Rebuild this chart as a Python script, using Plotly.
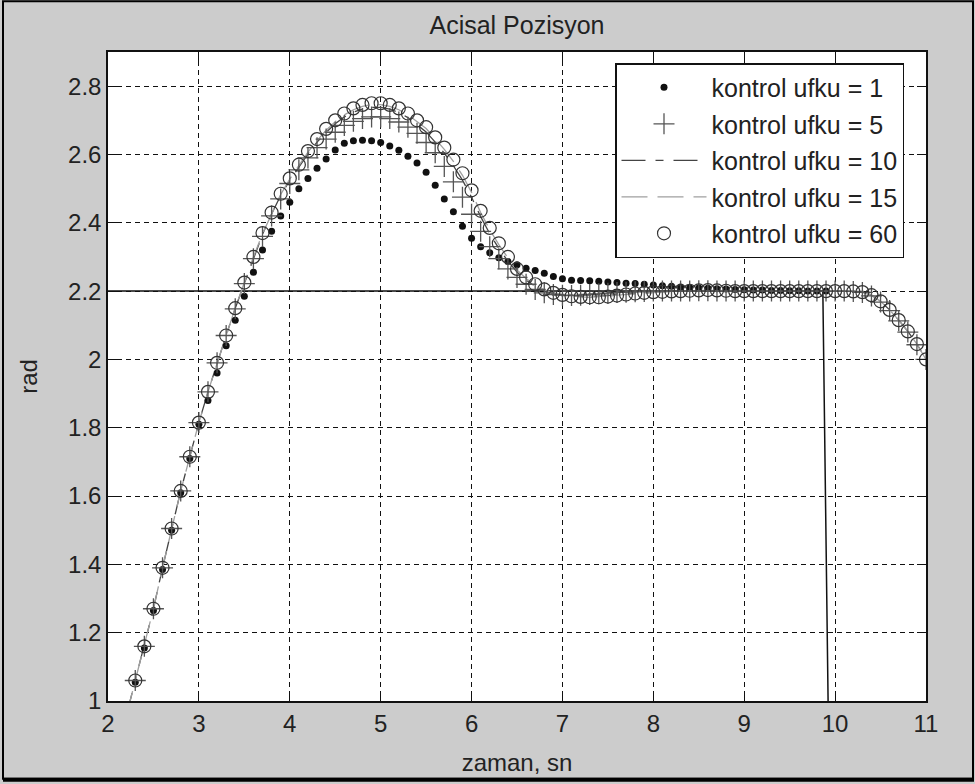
import plotly.graph_objects as go

# time axis (s)
t = [2.2, 2.3, 2.4, 2.5, 2.6, 2.7, 2.8, 2.9, 3.0, 3.1, 3.2, 3.3, 3.4, 3.5, 3.6, 3.7, 3.8, 3.9,
     4.0, 4.1, 4.2, 4.3, 4.4, 4.5, 4.6, 4.7, 4.8, 4.9, 5.0, 5.1, 5.2, 5.3, 5.4, 5.5, 5.6, 5.7,
     5.8, 5.9, 6.0, 6.1, 6.2, 6.3, 6.4, 6.5, 6.6, 6.7, 6.8, 6.9, 7.0, 7.1, 7.2, 7.3, 7.4, 7.5,
     7.6, 7.7, 7.8, 7.9, 8.0, 8.1, 8.2, 8.3, 8.4, 8.5, 8.6, 8.7, 8.8, 8.9, 9.0, 9.1, 9.2, 9.3,
     9.4, 9.5, 9.6, 9.7, 9.8, 9.9, 10.0, 10.1, 10.2, 10.3, 10.4, 10.5, 10.6, 10.7, 10.8, 10.9, 11.0]

# kontrol ufku = 60 (circles)
y_h60 = [0.955, 1.06, 1.16, 1.27, 1.39, 1.505, 1.615, 1.715, 1.815, 1.905, 1.99, 2.07, 2.15, 2.225,
         2.30, 2.37, 2.43, 2.485, 2.53, 2.57, 2.61, 2.645, 2.675, 2.70, 2.72, 2.735, 2.745, 2.75,
         2.75, 2.745, 2.735, 2.72, 2.70, 2.68, 2.65, 2.62, 2.585, 2.545, 2.495, 2.435, 2.385, 2.34,
         2.30, 2.265, 2.24, 2.22, 2.205, 2.195, 2.189, 2.185, 2.183, 2.182, 2.182, 2.184, 2.187,
         2.19, 2.193, 2.195, 2.197, 2.198, 2.199, 2.2, 2.201, 2.202, 2.203, 2.202, 2.201, 2.2, 2.2,
         2.2, 2.2, 2.2, 2.2, 2.2, 2.2, 2.2, 2.2, 2.2, 2.2, 2.2, 2.199, 2.197, 2.188, 2.17, 2.145,
         2.115, 2.082, 2.045, 2.0]

# kontrol ufku = 5 (plus)
y_h5 = [0.955, 1.06, 1.16, 1.27, 1.39, 1.505, 1.615, 1.715, 1.815, 1.905, 1.99, 2.07, 2.148, 2.222,
        2.295, 2.36, 2.42, 2.47, 2.515, 2.555, 2.59, 2.62, 2.645, 2.665, 2.685, 2.697, 2.705, 2.71,
        2.71, 2.705, 2.695, 2.68, 2.662, 2.635, 2.605, 2.565, 2.52, 2.475, 2.425, 2.375, 2.33, 2.295,
        2.265, 2.24, 2.22, 2.205, 2.195, 2.19, 2.188, 2.187, 2.188, 2.19, 2.192, 2.194, 2.196,
        2.197, 2.198, 2.199, 2.2, 2.2, 2.2, 2.2, 2.2, 2.201, 2.201, 2.2, 2.2, 2.2, 2.2,
        2.2, 2.2, 2.2, 2.2, 2.2, 2.2, 2.2, 2.2, 2.2, 2.2, 2.2, 2.199, 2.196, 2.186, 2.168, 2.143,
        2.113, 2.08, 2.043, 2.0]

# kontrol ufku = 10 (dash-dot line)
y_h10 = [0.955, 1.06, 1.16, 1.27, 1.39, 1.505, 1.615, 1.715, 1.815, 1.905, 1.99, 2.07, 2.15, 2.224,
         2.298, 2.366, 2.426, 2.48, 2.524, 2.563, 2.602, 2.636, 2.665, 2.69, 2.71, 2.724, 2.733, 2.738,
         2.738, 2.733, 2.723, 2.708, 2.688, 2.666, 2.636, 2.604, 2.567, 2.525, 2.475, 2.418, 2.368, 2.325,
         2.288, 2.256, 2.232, 2.214, 2.201, 2.193, 2.188, 2.185, 2.184, 2.184, 2.185, 2.187, 2.19,
         2.192, 2.194, 2.196, 2.198, 2.199, 2.2, 2.2, 2.201, 2.202, 2.202, 2.201, 2.2, 2.2, 2.2,
         2.2, 2.2, 2.2, 2.2, 2.2, 2.2, 2.2, 2.2, 2.2, 2.2, 2.2, 2.199, 2.197, 2.188, 2.17, 2.145,
         2.115, 2.082, 2.045, 2.0]

# kontrol ufku = 15 (long-dash line)
y_h15 = [0.955, 1.06, 1.16, 1.27, 1.39, 1.505, 1.615, 1.715, 1.815, 1.905, 1.99, 2.07, 2.15, 2.225,
         2.30, 2.368, 2.428, 2.483, 2.528, 2.567, 2.607, 2.641, 2.671, 2.696, 2.716, 2.731, 2.741, 2.746,
         2.746, 2.741, 2.731, 2.716, 2.696, 2.676, 2.646, 2.615, 2.58, 2.539, 2.489, 2.43, 2.38, 2.336,
         2.297, 2.262, 2.237, 2.218, 2.204, 2.194, 2.189, 2.185, 2.183, 2.182, 2.183, 2.185, 2.188,
         2.19, 2.193, 2.195, 2.197, 2.198, 2.199, 2.2, 2.201, 2.202, 2.203, 2.202, 2.201, 2.2, 2.2,
         2.2, 2.2, 2.2, 2.2, 2.2, 2.2, 2.2, 2.2, 2.2, 2.2, 2.2, 2.199, 2.197, 2.188, 2.17, 2.145,
         2.115, 2.082, 2.045, 2.0]

# kontrol ufku = 1 (dots), recorded until 9.9 s
t_h1 = t[:78]
y_h1 = [0.95, 1.055, 1.155, 1.265, 1.385, 1.5, 1.61, 1.71, 1.81, 1.88, 1.96, 2.04, 2.115, 2.185,
        2.255, 2.32, 2.375, 2.42, 2.46, 2.50, 2.53, 2.56, 2.587, 2.613, 2.633, 2.64, 2.642, 2.64,
        2.635, 2.625, 2.612, 2.595, 2.575, 2.548, 2.51, 2.47, 2.432, 2.39, 2.355, 2.33, 2.312, 2.298,
        2.287, 2.277, 2.267, 2.26, 2.252, 2.243, 2.236, 2.232, 2.231, 2.23, 2.229, 2.227, 2.225,
        2.223, 2.222, 2.22, 2.218, 2.216, 2.214, 2.212, 2.21, 2.209, 2.208, 2.207, 2.206, 2.205, 2.204,
        2.203, 2.203, 2.202, 2.202, 2.201, 2.201, 2.2, 2.2, 2.2]

# reference trajectory
ref_t = [0.0, 9.865, 9.93]
ref_y = [2.2, 2.2, 0.85]

x_ticks = [2, 3, 4, 5, 6, 7, 8, 9, 10, 11]
y_ticks = [1, 1.2, 1.4, 1.6, 1.8, 2, 2.2, 2.4, 2.6, 2.8]

FONT = "Liberation Sans, Arial, sans-serif"
FS = 24
TXT = "#222222"

fig = go.Figure()

fig.add_trace(go.Scatter(x=ref_t, y=ref_y, mode="lines", showlegend=False,
                         line=dict(color="#111111", width=1.5)))
fig.add_trace(go.Scatter(x=t, y=y_h10, mode="lines", name="kontrol ufku = 10", legendrank=3,
                         legendgroup="g3",
                         line=dict(color="#444444", width=1.3, dash="24px,10px,8px,10px")))
fig.add_trace(go.Scatter(x=t, y=y_h15, mode="lines", name="kontrol ufku = 15", legendrank=4,
                         legendgroup="g4",
                         line=dict(color="#a0a0a0", width=1.3, dash="26px,10px")))
fig.add_trace(go.Scatter(x=t_h1, y=y_h1, mode="markers", name="kontrol ufku = 1", legendrank=1,
                         legendgroup="g1",
                         marker=dict(symbol="circle", size=7, color="#111111")))
fig.add_trace(go.Scatter(x=t, y=y_h5, mode="markers", name="kontrol ufku = 5", legendrank=2,
                         legendgroup="g2",
                         marker=dict(symbol="cross-thin-open", size=15, color="#555555",
                                     line=dict(color="#555555", width=1.3))))
fig.add_trace(go.Scatter(x=t, y=y_h60, mode="markers", name="kontrol ufku = 60", legendrank=5,
                         legendgroup="g5",
                         marker=dict(symbol="circle-open", size=13, color="#333333",
                                     line=dict(color="#333333", width=1.2))))

axis_common = dict(
    showline=True, linecolor="#111111", linewidth=1.5, mirror="ticks",
    ticks="inside", ticklen=9, tickwidth=1.3, tickcolor="#111111",
    showgrid=True, gridcolor="#111111", gridwidth=1.2, griddash="5px,4px",
    zeroline=False, tickfont=dict(family=FONT, size=FS, color=TXT),
)

fig.update_xaxes(range=[2, 11], tickvals=x_ticks,
                 title=dict(text="zaman, sn", font=dict(family=FONT, size=FS, color=TXT),
                            standoff=19),
                 **axis_common)
fig.update_yaxes(range=[1, 2.9], tickvals=y_ticks,
                 title=dict(text="rad", font=dict(family=FONT, size=FS, color=TXT),
                            standoff=24),
                 **axis_common)

fig.update_layout(
    width=975, height=784,
    margin=dict(l=108, r=49, t=52, b=81),
    paper_bgcolor="#cccccc", plot_bgcolor="white",
    font=dict(family=FONT, size=FS, color=TXT),
    title=dict(text="Acisal Pozisyon", x=0.5, xref="paper", xanchor="center",
               y=1 - 25 / 784, yanchor="middle",
               font=dict(family=FONT, size=25, color=TXT)),
    legend=dict(x=(615 - 108) / 818, xanchor="left", y=0.983, yanchor="top",
                bgcolor="white", bordercolor="#111111", borderwidth=1.5,
                font=dict(family=FONT, size=25, color=TXT),
                itemwidth=85, tracegroupgap=1, traceorder="grouped"),
    shapes=[
        dict(type="rect", xref="paper", yref="paper",
             x0=-105 / 818, x1=865 / 818, y0=-78 / 651, y1=702 / 651,
             line=dict(color="black", width=2), layer="above"),
        dict(type="line", xref="paper", yref="paper",
             x0=-105 / 818, x1=866 / 818, y0=-79 / 651, y1=-79 / 651,
             line=dict(color="black", width=4), layer="above"),
    ],
)

fig.write_html("out.html")
